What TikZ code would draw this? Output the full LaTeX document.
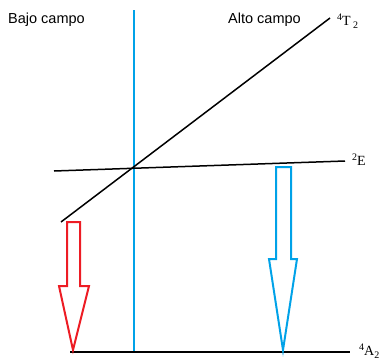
\documentclass[tikz,border=0pt]{standalone}
\usepackage{fontspec}
\setmainfont{Liberation Serif}
\newfontfamily\arialf{Liberation Sans}
\definecolor{redarr}{RGB}{237,28,36}
\definecolor{bluearr}{RGB}{0,162,232}
\begin{document}
\begin{tikzpicture}[x=1pt,y=-1pt,
  level/.style={line width=1.5pt,black},
  fieldtxt/.style={font=\arialf\fontsize{14.5}{16}\selectfont,anchor=base west,inner sep=0},
  termtxt/.style={font=\fontsize{14}{16}\selectfont,anchor=base west,inner sep=0},
  arrowshape/.style={line width=2pt,line join=miter}]
\useasboundingbox (0,0) rectangle (382,359);
% coordinates
\coordinate (t2a) at (61,222);
\coordinate (t2b) at (330,18);
\coordinate (ea) at (54,171);
\coordinate (eb) at (345,161);
\coordinate (aa) at (70,352);
\coordinate (ab) at (350,352);
\coordinate (va) at (134,10);
\coordinate (vb) at (134,353);
% divider
\draw[bluearr,line width=2pt] (va) -- (vb);
% levels
\draw[level] (t2a) -- (t2b);
\draw[level] (ea) -- (eb);
\draw[level] (aa) -- (ab);
% labels
\node[fieldtxt] (bajo) at (8,23) {Bajo campo};
\node[fieldtxt] (alto) at (228,23) {Alto campo};
\node[termtxt] (lt2) at (337,25) {\raisebox{5pt}{\fontsize{10}{10}\selectfont 4}T\,\raisebox{-3pt}{\fontsize{10}{10}\selectfont 2}};
\node[termtxt] (le) at (352,165) {\raisebox{5pt}{\fontsize{10}{10}\selectfont 2}E};
\node[termtxt] (la2) at (359,355) {\raisebox{5pt}{\fontsize{10}{10}\selectfont 4}A\raisebox{-3pt}{\fontsize{10}{10}\selectfont 2}};
% red arrow
\draw[arrowshape,redarr] (67,222) -- (80,222) -- (80,286) -- (89,286) -- (73,350) -- (59,286) -- (67,286) -- cycle;
% blue arrow
\draw[arrowshape,bluearr] (276,167) -- (291,167) -- (291,259) -- (297,259) -- (283,350) -- (269,259) -- (276,259) -- cycle;
\end{tikzpicture}
\end{document}
